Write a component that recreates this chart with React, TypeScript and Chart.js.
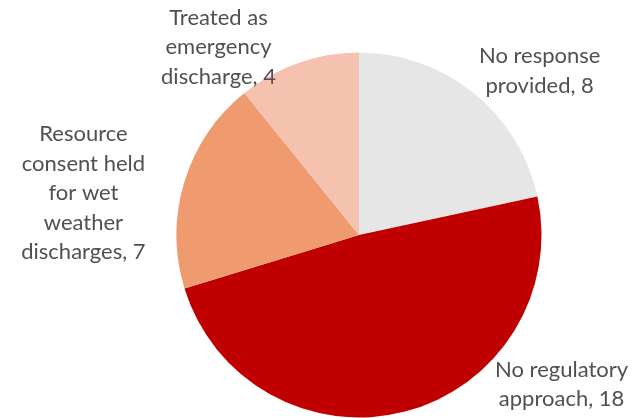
import React, { useEffect, useRef } from "react";
import { Chart, registerables } from "chart.js";

Chart.register(...registerables);

const categories = [
  "No response provided",
  "No regulatory approach",
  "Resource consent held for wet weather discharges",
  "Treated as emergency discharge",
];
const values = [8, 18, 7, 4];
const labelLines = [
  ["No response", "provided, 8"],
  ["No regulatory", "approach, 18"],
  ["Resource", "consent held", "for wet", "weather", "discharges, 7"],
  ["Treated as", "emergency", "discharge, 4"],
];
const colors = ["#E6E6E6", "#C00000", "#F09A70", "#F5C2B0"];
// label centre offsets in units of the pie radius, relative to pie centre
const labelOffsets = [
  [0.99, -0.9],
  [1.11, 0.82],
  [-1.51, -0.23],
  [-0.77, -1.03],
];

const FONT = "22px Lato, 'Open Sans', sans-serif";
const LINE_H = 29.5;

const labelPlugin = {
  id: "outsideLabels",
  afterDatasetsDraw(chart: any) {
    const ctx = chart.ctx;
    const meta = chart.getDatasetMeta(0);
    ctx.save();
    ctx.font = FONT;
    ctx.fillStyle = "#505050";
    ctx.textAlign = "center";
    ctx.textBaseline = "middle";
    meta.data.forEach((arc: any, i: number) => {
      const r = arc.outerRadius;
      const cx = arc.x + labelOffsets[i][0] * r;
      const cy = arc.y + labelOffsets[i][1] * r;
      const lines = labelLines[i];
      const start = cy - ((lines.length - 1) * LINE_H) / 2;
      lines.forEach((ln, j) => ctx.fillText(ln, cx, start + j * LINE_H));
    });
    ctx.restore();
  },
};

export default function App() {
  const ref = useRef<HTMLCanvasElement>(null);
  useEffect(() => {
    const chart = new Chart(ref.current!, {
      type: "pie",
      data: {
        labels: categories,
        datasets: [
          {
            data: values,
            backgroundColor: colors,
            borderWidth: 0,
          },
        ],
      },
      options: {
        animation: false,
        responsive: false,
        layout: { padding: { left: 176.5, right: 93.5, top: 52.5, bottom: 0.5 } },
        plugins: { legend: { display: false }, tooltip: { enabled: false } },
      },
      plugins: [labelPlugin],
    });
    return () => chart.destroy();
  }, []);
  return (
    <div style={{ position: "fixed", left: 0, top: 0, width: 635, height: 418, background: "#fff" }}>
      <canvas ref={ref} width={635} height={418} style={{ width: 635, height: 418 }} />
    </div>
  );
}
